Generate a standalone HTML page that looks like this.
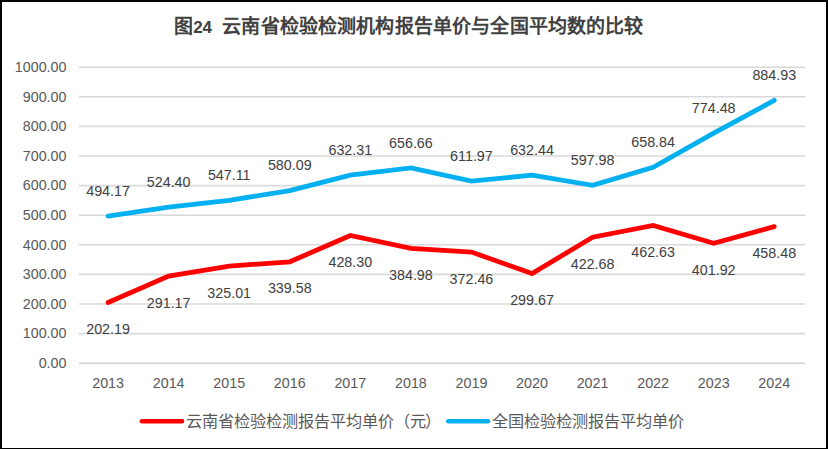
<!DOCTYPE html>
<html lang="zh-CN"><head><meta charset="utf-8">
<style>
html,body{margin:0;padding:0;background:#fff;}
#wrap{position:relative;width:828px;height:449px;overflow:hidden;background:#fff;}
#frame{position:absolute;left:0;top:0;width:824px;height:446px;border-left:2px solid #000;border-top:2px solid #000;border-right:2px solid #000;border-bottom:1px solid #000;}
svg{position:absolute;left:0;top:0;}
.ax{font-family:"Liberation Sans",sans-serif;font-size:14.3px;fill:#595959;}
.dl{font-family:"Liberation Sans",sans-serif;font-size:14.3px;fill:#404040;}
.tc{position:absolute;font-family:"Liberation Serif",serif;font-weight:bold;font-size:19px;line-height:24px;height:24px;color:#404040;text-align:center;white-space:nowrap;}
.lc{position:absolute;font-family:"Liberation Sans",sans-serif;font-size:16.2px;line-height:20px;height:20px;color:#595959;text-align:center;white-space:nowrap;}
.t24{position:absolute;left:174px;top:14.7px;line-height:24px;font-family:"Liberation Sans",sans-serif;font-weight:bold;font-size:17px;color:#404040;white-space:nowrap;}
</style></head><body>
<div id="wrap">
<svg width="828" height="449" viewBox="0 0 828 449">
<line x1="79" y1="363.20" x2="805" y2="363.20" stroke="#d0d0d0" stroke-width="1.6"/>
<text x="66.5" y="368.00" text-anchor="end" class="ax">0.00</text>
<line x1="79" y1="333.60" x2="805" y2="333.60" stroke="#d9d9d9" stroke-width="1.6"/>
<text x="66.5" y="338.40" text-anchor="end" class="ax">100.00</text>
<line x1="79" y1="304.00" x2="805" y2="304.00" stroke="#d9d9d9" stroke-width="1.6"/>
<text x="66.5" y="308.80" text-anchor="end" class="ax">200.00</text>
<line x1="79" y1="274.40" x2="805" y2="274.40" stroke="#d9d9d9" stroke-width="1.6"/>
<text x="66.5" y="279.20" text-anchor="end" class="ax">300.00</text>
<line x1="79" y1="244.80" x2="805" y2="244.80" stroke="#d9d9d9" stroke-width="1.6"/>
<text x="66.5" y="249.60" text-anchor="end" class="ax">400.00</text>
<line x1="79" y1="215.20" x2="805" y2="215.20" stroke="#d9d9d9" stroke-width="1.6"/>
<text x="66.5" y="220.00" text-anchor="end" class="ax">500.00</text>
<line x1="79" y1="185.60" x2="805" y2="185.60" stroke="#d9d9d9" stroke-width="1.6"/>
<text x="66.5" y="190.40" text-anchor="end" class="ax">600.00</text>
<line x1="79" y1="156.00" x2="805" y2="156.00" stroke="#d9d9d9" stroke-width="1.6"/>
<text x="66.5" y="160.80" text-anchor="end" class="ax">700.00</text>
<line x1="79" y1="126.40" x2="805" y2="126.40" stroke="#d9d9d9" stroke-width="1.6"/>
<text x="66.5" y="131.20" text-anchor="end" class="ax">800.00</text>
<line x1="79" y1="96.80" x2="805" y2="96.80" stroke="#d9d9d9" stroke-width="1.6"/>
<text x="66.5" y="101.60" text-anchor="end" class="ax">900.00</text>
<line x1="79" y1="67.20" x2="805" y2="67.20" stroke="#d9d9d9" stroke-width="1.6"/>
<text x="66.5" y="72.00" text-anchor="end" class="ax">1000.00</text>
<text x="108.10" y="388.00" text-anchor="middle" class="ax">2013</text>
<text x="168.66" y="388.00" text-anchor="middle" class="ax">2014</text>
<text x="229.22" y="388.00" text-anchor="middle" class="ax">2015</text>
<text x="289.78" y="388.00" text-anchor="middle" class="ax">2016</text>
<text x="350.34" y="388.00" text-anchor="middle" class="ax">2017</text>
<text x="410.90" y="388.00" text-anchor="middle" class="ax">2018</text>
<text x="471.46" y="388.00" text-anchor="middle" class="ax">2019</text>
<text x="532.02" y="388.00" text-anchor="middle" class="ax">2020</text>
<text x="592.58" y="388.00" text-anchor="middle" class="ax">2021</text>
<text x="653.14" y="388.00" text-anchor="middle" class="ax">2022</text>
<text x="713.70" y="388.00" text-anchor="middle" class="ax">2023</text>
<text x="774.26" y="388.00" text-anchor="middle" class="ax">2024</text>
<polyline points="108.10,216.03 168.66,207.08 229.22,200.36 289.78,190.59 350.34,175.14 410.90,167.93 471.46,181.16 532.02,175.10 592.58,185.30 653.14,167.28 713.70,133.05 774.26,100.36" fill="none" stroke="#00b0f0" stroke-width="4.8" stroke-linejoin="miter" stroke-linecap="round"/>
<polyline points="108.10,302.45 168.66,276.11 229.22,266.10 289.78,261.78 350.34,235.52 410.90,248.35 471.46,252.05 532.02,273.60 592.58,237.19 653.14,225.36 713.70,243.33 774.26,226.59" fill="none" stroke="#ff0000" stroke-width="4.8" stroke-linejoin="miter" stroke-linecap="round"/>
<text x="108.10" y="195.73" text-anchor="middle" class="dl">494.17</text>
<text x="168.66" y="186.78" text-anchor="middle" class="dl">524.40</text>
<text x="229.22" y="180.06" text-anchor="middle" class="dl">547.11</text>
<text x="289.78" y="170.29" text-anchor="middle" class="dl">580.09</text>
<text x="350.34" y="154.84" text-anchor="middle" class="dl">632.31</text>
<text x="410.90" y="147.63" text-anchor="middle" class="dl">656.66</text>
<text x="471.46" y="160.86" text-anchor="middle" class="dl">611.97</text>
<text x="532.02" y="154.80" text-anchor="middle" class="dl">632.44</text>
<text x="592.58" y="165.00" text-anchor="middle" class="dl">597.98</text>
<text x="653.14" y="146.98" text-anchor="middle" class="dl">658.84</text>
<text x="713.70" y="112.75" text-anchor="middle" class="dl">774.48</text>
<text x="774.26" y="80.06" text-anchor="middle" class="dl">884.93</text>
<text x="108.10" y="334.15" text-anchor="middle" class="dl">202.19</text>
<text x="168.66" y="307.81" text-anchor="middle" class="dl">291.17</text>
<text x="229.22" y="297.80" text-anchor="middle" class="dl">325.01</text>
<text x="289.78" y="293.48" text-anchor="middle" class="dl">339.58</text>
<text x="350.34" y="267.22" text-anchor="middle" class="dl">428.30</text>
<text x="410.90" y="280.05" text-anchor="middle" class="dl">384.98</text>
<text x="471.46" y="283.75" text-anchor="middle" class="dl">372.46</text>
<text x="532.02" y="305.30" text-anchor="middle" class="dl">299.67</text>
<text x="592.58" y="268.89" text-anchor="middle" class="dl">422.68</text>
<text x="653.14" y="257.06" text-anchor="middle" class="dl">462.63</text>
<text x="713.70" y="275.03" text-anchor="middle" class="dl">401.92</text>
<text x="774.26" y="258.29" text-anchor="middle" class="dl">458.48</text>
<line x1="142" y1="421.2" x2="182" y2="421.2" stroke="#ff0000" stroke-width="4.6" stroke-linecap="round"/>
<line x1="448.3" y1="421.2" x2="488" y2="421.2" stroke="#00b0f0" stroke-width="4.6" stroke-linecap="round"/>
</svg>
<div class="t24"><span style="font-family:'Liberation Serif',serif;font-size:19px;display:inline-block;width:19.15px;text-align:center">图</span>24</div>
<span class="tc" style="left:222.20px;top:14.7px;width:19.15px">云</span>
<span class="tc" style="left:241.35px;top:14.7px;width:19.15px">南</span>
<span class="tc" style="left:260.50px;top:14.7px;width:19.15px">省</span>
<span class="tc" style="left:279.65px;top:14.7px;width:19.15px">检</span>
<span class="tc" style="left:298.80px;top:14.7px;width:19.15px">验</span>
<span class="tc" style="left:317.95px;top:14.7px;width:19.15px">检</span>
<span class="tc" style="left:337.10px;top:14.7px;width:19.15px">测</span>
<span class="tc" style="left:356.25px;top:14.7px;width:19.15px">机</span>
<span class="tc" style="left:375.40px;top:14.7px;width:19.15px">构</span>
<span class="tc" style="left:394.55px;top:14.7px;width:19.15px">报</span>
<span class="tc" style="left:413.70px;top:14.7px;width:19.15px">告</span>
<span class="tc" style="left:432.85px;top:14.7px;width:19.15px">单</span>
<span class="tc" style="left:452.00px;top:14.7px;width:19.15px">价</span>
<span class="tc" style="left:471.15px;top:14.7px;width:19.15px">与</span>
<span class="tc" style="left:490.30px;top:14.7px;width:19.15px">全</span>
<span class="tc" style="left:509.45px;top:14.7px;width:19.15px">国</span>
<span class="tc" style="left:528.60px;top:14.7px;width:19.15px">平</span>
<span class="tc" style="left:547.75px;top:14.7px;width:19.15px">均</span>
<span class="tc" style="left:566.90px;top:14.7px;width:19.15px">数</span>
<span class="tc" style="left:586.05px;top:14.7px;width:19.15px">的</span>
<span class="tc" style="left:605.20px;top:14.7px;width:19.15px">比</span>
<span class="tc" style="left:624.35px;top:14.7px;width:19.15px">较</span>
<span class="lc" style="left:186.20px;top:411px;width:15.95px">云</span>
<span class="lc" style="left:202.15px;top:411px;width:15.95px">南</span>
<span class="lc" style="left:218.10px;top:411px;width:15.95px">省</span>
<span class="lc" style="left:234.05px;top:411px;width:15.95px">检</span>
<span class="lc" style="left:250.00px;top:411px;width:15.95px">验</span>
<span class="lc" style="left:265.95px;top:411px;width:15.95px">检</span>
<span class="lc" style="left:281.90px;top:411px;width:15.95px">测</span>
<span class="lc" style="left:297.85px;top:411px;width:15.95px">报</span>
<span class="lc" style="left:313.80px;top:411px;width:15.95px">告</span>
<span class="lc" style="left:329.75px;top:411px;width:15.95px">平</span>
<span class="lc" style="left:345.70px;top:411px;width:15.95px">均</span>
<span class="lc" style="left:361.65px;top:411px;width:15.95px">单</span>
<span class="lc" style="left:377.60px;top:411px;width:15.95px">价</span>
<span class="lc" style="left:393.55px;top:411px;width:15.95px">（</span>
<span class="lc" style="left:409.50px;top:411px;width:15.95px">元</span>
<span class="lc" style="left:425.45px;top:411px;width:15.95px">）</span>
<span class="lc" style="left:492.30px;top:411px;width:15.95px">全</span>
<span class="lc" style="left:508.25px;top:411px;width:15.95px">国</span>
<span class="lc" style="left:524.20px;top:411px;width:15.95px">检</span>
<span class="lc" style="left:540.15px;top:411px;width:15.95px">验</span>
<span class="lc" style="left:556.10px;top:411px;width:15.95px">检</span>
<span class="lc" style="left:572.05px;top:411px;width:15.95px">测</span>
<span class="lc" style="left:588.00px;top:411px;width:15.95px">报</span>
<span class="lc" style="left:603.95px;top:411px;width:15.95px">告</span>
<span class="lc" style="left:619.90px;top:411px;width:15.95px">平</span>
<span class="lc" style="left:635.85px;top:411px;width:15.95px">均</span>
<span class="lc" style="left:651.80px;top:411px;width:15.95px">单</span>
<span class="lc" style="left:667.75px;top:411px;width:15.95px">价</span>
<div id="frame"></div>
</div>
</body></html>
